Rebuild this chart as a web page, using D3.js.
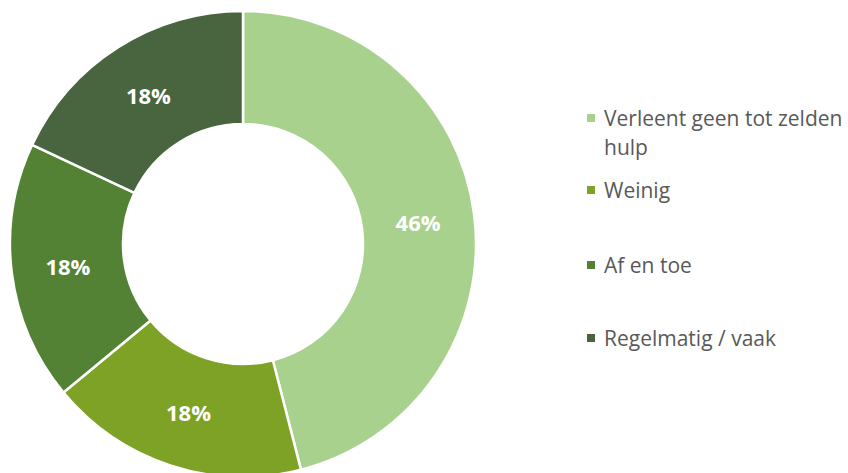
<!DOCTYPE html>
<html>
<head>
<meta charset="utf-8">
<script src="https://cdn.jsdelivr.net/npm/d3@7"></script>
<style>
  html, body { margin: 0; padding: 0; background: #ffffff; }
  svg { display: block; }
</style>
</head>
<body>
<svg id="chart" width="848" height="473"></svg>
<script>
// Share of respondents by how often they give help
const categories = ["Verleent geen tot zelden hulp", "Weinig", "Af en toe", "Regelmatig / vaak"];
const legendLines = [["Verleent geen tot zelden", "hulp"], ["Weinig"], ["Af en toe"], ["Regelmatig / vaak"]];
const values = [46, 18, 18, 18];
const colors = ["#A9D18E", "#7EA225", "#548235", "#48653F"];

const svg = d3.select("#chart");

const cx = 243, cy = 244;
const outerR = 233, innerR = 120;

const color = d3.scaleOrdinal().domain(categories).range(colors);

const pie = d3.pie()
  .sort(null)
  .value(d => d.value);

const data = categories.map((c, i) => ({ name: c, value: values[i] }));
const arcs = pie(data);

const arc = d3.arc().innerRadius(innerR).outerRadius(outerR);

const g = svg.append("g").attr("transform", `translate(${cx},${cy})`);

g.selectAll("path.slice")
  .data(arcs)
  .join("path")
  .attr("class", "slice")
  .attr("d", arc)
  .attr("fill", d => color(d.data.name))
  .attr("stroke", "#ffffff")
  .attr("stroke-width", 2.5)
  .attr("stroke-linejoin", "miter");

// Percentage labels at the middle of each ring segment
g.selectAll("text.value")
  .data(arcs)
  .join("text")
  .attr("class", "value")
  .attr("transform", d => `translate(${arc.centroid(d)})`)
  .attr("text-anchor", "middle")
  .attr("dominant-baseline", "central")
  .attr("font-family", "'Open Sans', sans-serif")
  .attr("font-weight", "bold")
  .attr("font-size", 22)
  .attr("fill", "#ffffff")
  .text(d => d.data.value + "%");

// Legend
const legendY = [118, 190, 265, 338];
const legend = svg.append("g");
categories.forEach((c, i) => {
  legend.append("rect")
    .attr("x", 587)
    .attr("y", legendY[i] - 4)
    .attr("width", 8)
    .attr("height", 8)
    .attr("fill", color(c));
  const t = legend.append("text")
    .attr("x", 604)
    .attr("y", legendY[i])
    .attr("dominant-baseline", "central")
    .attr("font-family", "'Open Sans', sans-serif")
    .attr("font-size", 21)
    .attr("fill", "#595959");
  legendLines[i].forEach((line, j) => {
    t.append("tspan")
      .attr("x", 604)
      .attr("dy", j === 0 ? 0 : 29)
      .text(line);
  });
});
</script>
</body>
</html>
